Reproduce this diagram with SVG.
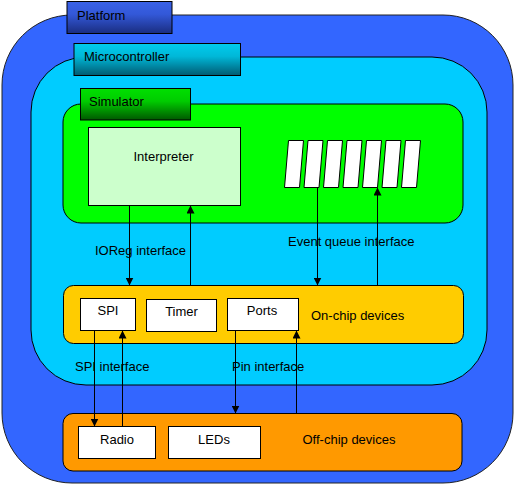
<svg xmlns="http://www.w3.org/2000/svg" width="515" height="486" viewBox="0 0 515 486">
<defs>
<linearGradient id="gPlat" x1="0" y1="0" x2="0" y2="1">
<stop offset="0" stop-color="#3a62e8"/><stop offset="0.4" stop-color="#3358d8"/><stop offset="1" stop-color="#1a2d80"/>
</linearGradient>
<linearGradient id="gMicro" x1="0" y1="0" x2="0" y2="1">
<stop offset="0" stop-color="#00ccee"/><stop offset="0.4" stop-color="#00b8d8"/><stop offset="1" stop-color="#005a72"/>
</linearGradient>
<linearGradient id="gSim" x1="0" y1="0" x2="0" y2="1">
<stop offset="0" stop-color="#00e000"/><stop offset="0.4" stop-color="#00cc00"/><stop offset="1" stop-color="#005800"/>
</linearGradient>
<marker id="arr" viewBox="0 0 10 10" refX="10" refY="5" markerWidth="8" markerHeight="8" markerUnits="userSpaceOnUse" orient="auto">
<path d="M0,0 L10,5 L0,10 z" fill="#000"/>
</marker>
<style>
text{font-family:"Liberation Sans",Arial,sans-serif;font-size:13px;fill:#000;}
.c{text-anchor:middle;}
.box{fill:#fff;stroke:#000;stroke-width:1;}
.slot{fill:#fff;stroke:#000;stroke-width:1;}
.con{stroke:#000;stroke-width:1;fill:none;}
</style>
</defs>
<g id="platform">
<rect x="2" y="15" width="511" height="468" rx="70" fill="#3366ff" stroke="#222" stroke-width="1"/>
<rect x="67" y="1.5" width="105" height="32" fill="url(#gPlat)" stroke="#000"/>
<text x="77" y="19.5">Platform</text>
</g>
<g id="microcontroller">
<rect x="31" y="57" width="456" height="328" rx="55" fill="#00ccff" stroke="#000"/>
<rect x="74" y="43.5" width="166.5" height="32" fill="url(#gMicro)" stroke="#000"/>
<text x="84" y="61">Microcontroller</text>
</g>
<g id="simulator">
<rect x="63" y="104" width="400" height="119" rx="18" fill="#00ff00" stroke="#000"/>
<rect x="80.5" y="88.5" width="110" height="31.5" fill="url(#gSim)" stroke="#000"/>
<text x="89" y="105.5">Simulator</text>
</g>
<g id="interpreter">
<rect x="88.5" y="127.5" width="152" height="78" fill="#ccffcc" stroke="#000"/>
<text class="c" x="163.5" y="161">Interpreter</text>
</g>
<g id="event-queue">
<polygon class="slot" points="288.5,140.5 303.5,140.5 299.5,187.5 284.5,187.5"/>
<polygon class="slot" points="308,140.5 323,140.5 319,187.5 304,187.5"/>
<polygon class="slot" points="327.5,140.5 342.5,140.5 338.5,187.5 323.5,187.5"/>
<polygon class="slot" points="347,140.5 362,140.5 358,187.5 343,187.5"/>
<polygon class="slot" points="366.5,140.5 381.5,140.5 377.5,187.5 362.5,187.5"/>
<polygon class="slot" points="386,140.5 401,140.5 397,187.5 382,187.5"/>
<polygon class="slot" points="405.5,140.5 420.5,140.5 416.5,187.5 401.5,187.5"/>
</g>
<g id="on-chip-devices">
<rect x="63.5" y="285.5" width="400" height="58" rx="10" fill="#ffcc00" stroke="#000"/>
<text x="311" y="319.5">On-chip devices</text>
</g>
<g id="spi">
<rect class="box" x="80.5" y="298.5" width="55" height="32"/>
<text class="c" x="108" y="314.5">SPI</text>
</g>
<g id="timer">
<rect class="box" x="146.5" y="299.5" width="70" height="32"/>
<text class="c" x="181.5" y="315.5">Timer</text>
</g>
<g id="ports">
<rect class="box" x="227.5" y="298.5" width="71" height="32"/>
<text class="c" x="262" y="314.5">Ports</text>
</g>
<g id="off-chip-devices">
<rect x="63" y="413.5" width="399" height="57.5" rx="10" fill="#ff9900" stroke="#000"/>
<text x="302.5" y="444">Off-chip devices</text>
</g>
<g id="radio">
<rect class="box" x="78.5" y="426.5" width="77" height="32"/>
<text class="c" x="117" y="444">Radio</text>
</g>
<g id="leds">
<rect class="box" x="168.5" y="426.5" width="92" height="32"/>
<text class="c" x="214" y="444">LEDs</text>
</g>
<g id="connectors">
<line class="con" x1="129.5" y1="205.5" x2="129.5" y2="285.5" marker-end="url(#arr)"/>
<line class="con" x1="190.5" y1="285.5" x2="190.5" y2="205.5" marker-end="url(#arr)"/>
<line class="con" x1="317.5" y1="187.5" x2="317.5" y2="285.5" marker-end="url(#arr)"/>
<line class="con" x1="377.5" y1="285.5" x2="377.5" y2="187.5" marker-end="url(#arr)"/>
<line class="con" x1="94.5" y1="330.5" x2="94.5" y2="426.5" marker-end="url(#arr)"/>
<line class="con" x1="122.5" y1="426.5" x2="122.5" y2="330.5" marker-end="url(#arr)"/>
<line class="con" x1="235.5" y1="330.5" x2="235.5" y2="413.5" marker-end="url(#arr)"/>
<line class="con" x1="296.5" y1="413.5" x2="296.5" y2="330.5" marker-end="url(#arr)"/>
<text x="95" y="255">IOReg interface</text>
<text x="288" y="246">Event queue interface</text>
<text x="75" y="371">SPI interface</text>
<text x="232" y="371">Pin interface</text>
</g>
</svg>
